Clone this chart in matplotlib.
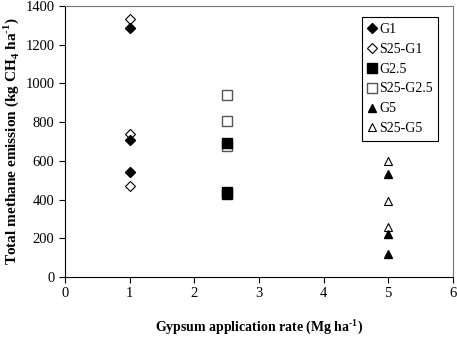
import matplotlib
matplotlib.use('Agg')
import matplotlib.pyplot as plt

plt.rcParams['font.family'] = ['Liberation Serif', 'DejaVu Serif']
plt.rcParams['mathtext.fontset'] = 'custom'
plt.rcParams['mathtext.rm'] = 'Liberation Serif'
plt.rcParams['mathtext.bf'] = 'Liberation Serif:bold'

# gypsum rate (Mg/ha) and total methane emission (kg CH4/ha)
g1_x = [1, 1, 1]
g1_y = [1288, 708, 544]
s25_g1_x = [1, 1, 1]
s25_g1_y = [1331, 737, 472]
g25_x = [2.5, 2.5, 2.5]
g25_y = [695, 440, 428]
s25_g25_x = [2.5, 2.5, 2.5]
s25_g25_y = [940, 806, 678]
g5_x = [5, 5, 5]
g5_y = [532, 220, 119]
s25_g5_x = [5, 5, 5]
s25_g5_y = [601, 393, 260]

fig = plt.figure(figsize=(4.57, 3.37), dpi=100)
ax = fig.add_axes([0.142, 0.178, 0.849, 0.804])

ax.plot(s25_g25_x, s25_g25_y, 's', ms=7, mfc='white', mec='#555555', mew=1, label='S25-G2.5', zorder=2)
ax.plot(g25_x, g25_y, 's', ms=7, color='black', label='G2.5', zorder=3)
ax.plot(s25_g1_x, s25_g1_y, 'D', ms=5, mfc='white', mec='black', mew=0.8, label='S25-G1', zorder=2)
ax.plot(g1_x, g1_y, 'D', ms=5, color='black', label='G1', zorder=3)
ax.plot(s25_g5_x, s25_g5_y, '^', ms=6, mfc='white', mec='black', mew=0.8, label='S25-G5', zorder=2)
ax.plot(g5_x, g5_y, '^', ms=6, color='black', label='G5', zorder=3)

ax.set_xlim(0, 6)
ax.set_ylim(0, 1400)
ax.set_xticks(range(0, 7))
ax.set_yticks(range(0, 1401, 200))
ax.tick_params(direction='out', length=4, labelsize=10.5, width=0.8)
for s in ['top', 'right']:
    ax.spines[s].set_color('#777777')

ax.set_xlabel('Gypsum application rate (Mg ha$^{\\mathbf{\\text{-}1}}$)', fontsize=10, fontweight='bold', labelpad=12)
ax.set_ylabel('Total methane emission (kg CH$_{\\mathbf{4}}$ ha$^{\\mathbf{\\text{-}1}}$)', fontsize=11, fontweight='bold', labelpad=3)

handles, labels = ax.get_legend_handles_labels()
order = ['G1', 'S25-G1', 'G2.5', 'S25-G2.5', 'G5', 'S25-G5']
hmap = dict(zip(labels, handles))
leg = ax.legend([hmap[k] for k in order], order, loc='upper right', fontsize=10,
                handlelength=0.6, handletextpad=0.2, labelspacing=0.5,
                borderpad=0.4, fancybox=False, edgecolor='black',
                framealpha=1, bbox_to_anchor=(0.98, 0.985))
leg.get_frame().set_linewidth(0.8)

fig.savefig('out.png', dpi=100)
